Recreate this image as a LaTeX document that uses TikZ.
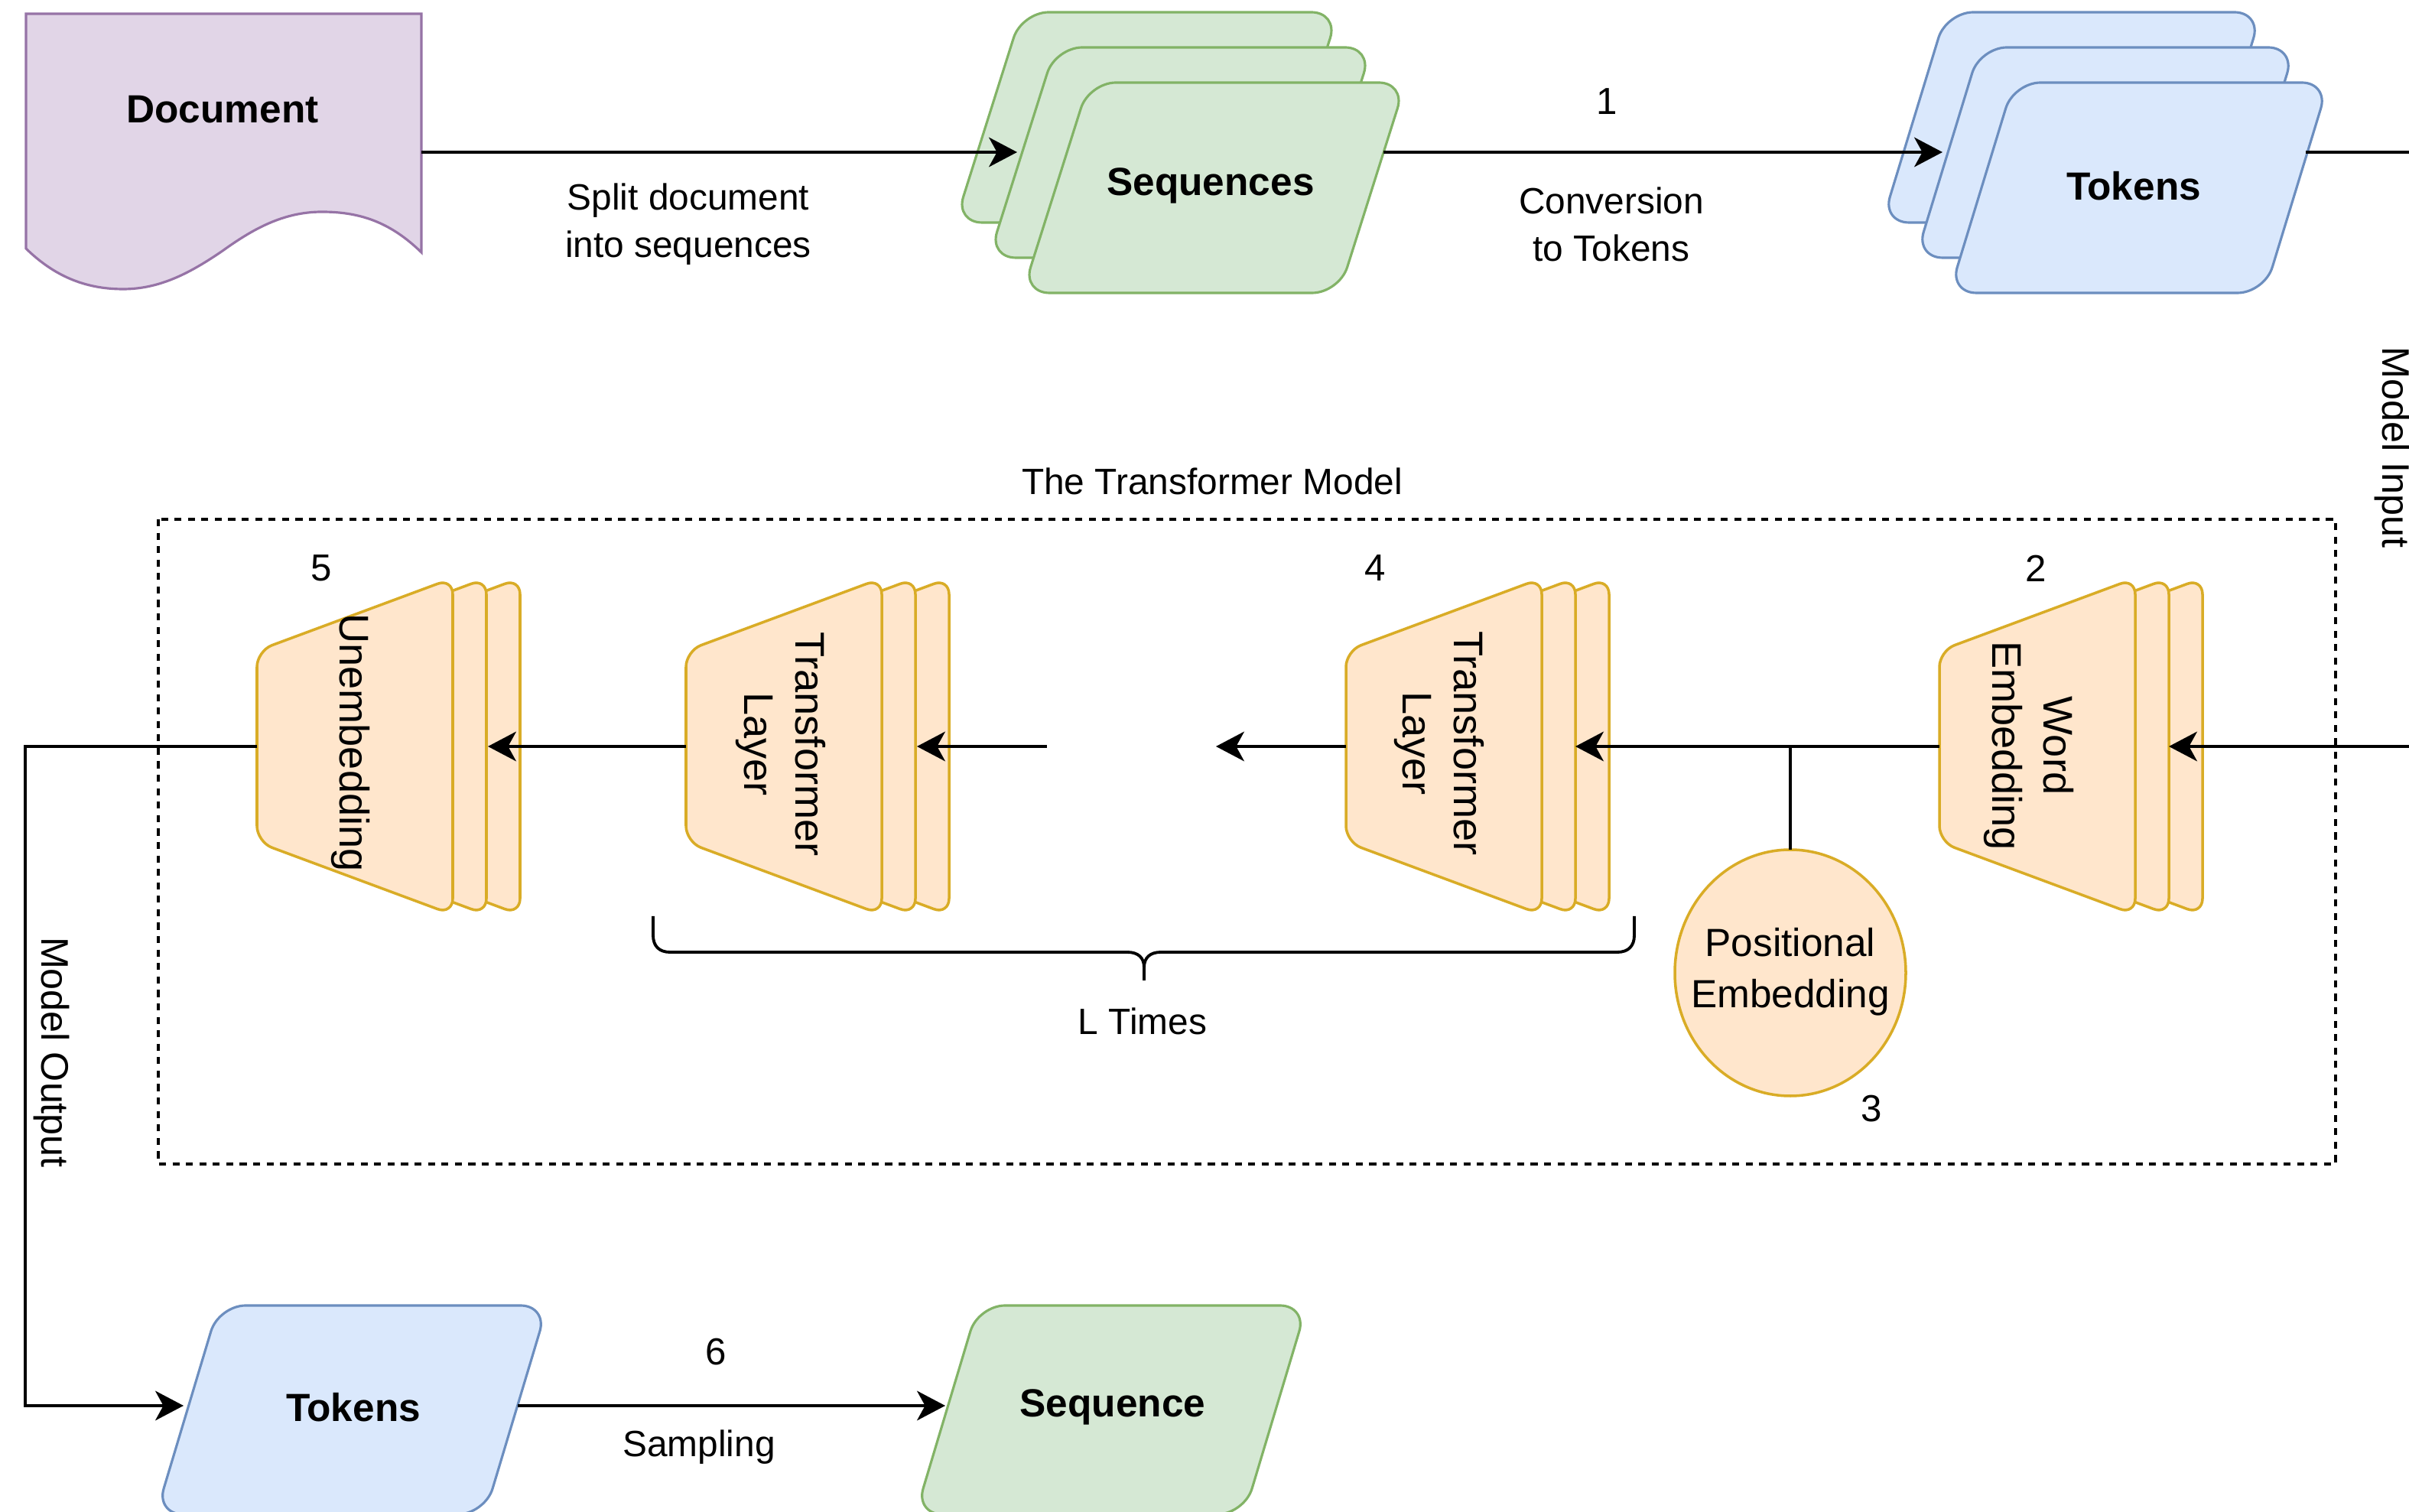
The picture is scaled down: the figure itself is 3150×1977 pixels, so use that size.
\documentclass[tikz,border=0pt]{standalone}
\usepackage{fontspec}
\setmainfont{Liberation Sans}
\usetikzlibrary{arrows.meta}
\definecolor{docfill}{HTML}{E1D5E7}
\definecolor{docline}{HTML}{9673A6}
\definecolor{seqfill}{HTML}{D5E8D4}
\definecolor{seqline}{HTML}{82B366}
\definecolor{tokfill}{HTML}{DAE8FC}
\definecolor{tokline}{HTML}{6C8EBF}
\definecolor{layfill}{HTML}{FFE6CC}
\definecolor{layline}{HTML}{D9AC26}
\tikzset{
  conn/.style={line width=1.05pt, draw=black},
  arr/.style={conn, -{Stealth[length=10.5pt,width=11pt,inset=3pt]}},
  docshape/.style={fill=docfill, draw=docline, line width=0.9pt},
  seqshape/.style={fill=seqfill, draw=seqline, line width=0.9pt, rounded corners=10pt},
  tokshape/.style={fill=tokfill, draw=tokline, line width=0.9pt, rounded corners=10pt},
  layshape/.style={fill=layfill, draw=layline, line width=1pt, rounded corners=6pt},
  lbl/.style={font=\fontsize{13.6}{17.6}\selectfont, align=center, inner sep=0pt},
  numlbl/.style={font=\fontsize{14}{17}\selectfont, inner sep=0pt},
  boldlbl/.style={font=\fontsize{14.6}{17}\selectfont\bfseries, inner sep=0pt},
  laytext/.style={font=\fontsize{15.4}{19}\selectfont, align=center, rotate=-90, inner sep=0pt},
  sidetext/.style={font=\fontsize{14.3}{17}\selectfont, rotate=-90, inner sep=0pt},
}
% three stacked trapezoids, front one with its narrow side at x = #1
\newcommand\layerstack[1]{%
  \foreach \s in {2,1,0}{%
    \draw[layshape, shift={(#1+44*\s,0)}] (0,851) -- (256,756) -- (256,1196) -- (0,1101) -- cycle;
  }%
}
\begin{document}
\begin{tikzpicture}[x=0.01cm, y=-0.01cm]
\useasboundingbox (0,0) rectangle (3150,1977);
\fill[white] (0,0) rectangle (3150,1977);
\clip (0,0) rectangle (3150,1977);

% ---------- top row ----------
\draw[docshape] (34,18) -- (551,18) -- (551,330)
  .. controls (510,290) and (470,277) .. (421,277)
  .. controls (370,277) and (330,300) .. (291,328)
  .. controls (250,356) and (210,378) .. (161,378)
  .. controls (110,378) and (70,360) .. (34,325) -- cycle;
\node[boldlbl] (doc) at (291,143) {Document};

\foreach \s in {2,1,0}
  \draw[seqshape, shift={(-44*\s,-46*\s)}] (1424,108) -- (1838,108) -- (1751,383) -- (1337,383) -- cycle;
\node[boldlbl] (seqs) at (1583,243) {Sequences};

\foreach \s in {2,1,0}
  \draw[tokshape, shift={(-44*\s,-46*\s)}] (2633,108) -- (3045,108) -- (2961,383) -- (2549,383) -- cycle;
\node[boldlbl] (toks) at (2790,243) {Tokens};

\coordinate (docOut) at (551,199);
\coordinate (seqIn) at (1330,199);
\coordinate (seqOut) at (1809,199);
\coordinate (tokIn) at (2540,199);
\coordinate (tokOut) at (3015,199);
\draw[arr] (docOut) -- (seqIn);
\draw[arr] (seqOut) -- (tokIn);

\node[lbl] (split) at (900,293) {Split document\\into sequences};
\node[numlbl] (n1) at (2101,133) {1};
\node[lbl] (conv) at (2107,293) {Conversion\\to Tokens};
\node[sidetext] (minput) at (3128,585) {Model Input};

% ---------- transformer model ----------
\draw[line width=1.1pt, dash pattern=on 2.6pt off 2.4pt] (207,679) rectangle (3054,1522);
\node[lbl] (title) at (1585,629) {The Transformer Model};

\layerstack{336}
\layerstack{897}
\layerstack{1760}
\layerstack{2536}

\node[laytext] (unemb) at (458,971) {Unembedding};
\node[laytext] (tl1) at (1021,973) {Transformer\\Layer};
\node[laytext] (tl2) at (1882,972) {Transformer\\Layer};
\node[laytext] (wemb) at (2653,975) {Word\\Embedding};

\node[numlbl] (n5) at (420,743) {5};
\node[numlbl] (n4) at (1798,743) {4};
\node[numlbl] (n2) at (2662,743) {2};

\draw[layshape] (2341,1272) ellipse [x radius=151, y radius=161];
\node[font=\fontsize{14.6}{19}\selectfont, align=center, inner sep=0pt] (pe) at (2341,1271) {Positional\\Embedding};
\coordinate (peTop) at (2341,1111);
\node[numlbl] (n3) at (2447,1450) {3};

% main data path
\coordinate (inA) at (3200,199);
\coordinate (inB) at (3200,976);
\coordinate (weIn) at (2836,976);
\coordinate (weOut) at (2536,976);
\coordinate (tl2In) at (2060,976);
\coordinate (join) at (2341,976);
\coordinate (tl2Out) at (1760,976);
\coordinate (gapR) at (1590,976);
\coordinate (gapL) at (1369,976);
\coordinate (tl1In) at (1199,976);
\coordinate (tl1Out) at (897,976);
\coordinate (ueIn) at (638,976);
\coordinate (ueOut) at (336,976);
\coordinate (outA) at (33,976);
\coordinate (outB) at (33,1838);

\draw[arr] (tokOut) -- (inA) -- (inB) -- (weIn);
\draw[arr] (weOut) -- (tl2In);
\draw[conn] (join) -- (peTop);
\draw[arr] (tl2Out) -- (gapR);
\draw[arr] (gapL) -- (tl1In);
\draw[arr] (tl1Out) -- (ueIn);

% brace over the repeated layers
\draw[line width=1.1pt] (854,1198) -- (854,1223) .. controls (854,1237) and (862,1245) .. (876,1245)
  -- (1474,1245) .. controls (1488,1245) and (1496,1252) .. (1496,1265) -- (1496,1282);
\draw[line width=1.1pt] (2137,1198) -- (2137,1223) .. controls (2137,1237) and (2129,1245) .. (2115,1245)
  -- (1518,1245) .. controls (1504,1245) and (1496,1252) .. (1496,1265);
\node[lbl] (ltimes) at (1494,1335) {L Times};

% ---------- bottom row ----------
\draw[tokshape] (286,1707) -- (716,1707) -- (634,1980) -- (204,1980) -- cycle;
\node[boldlbl] (tokB) at (462,1840) {Tokens};
\draw[seqshape] (1279,1707) -- (1709,1707) -- (1627,1980) -- (1197,1980) -- cycle;
\node[boldlbl] (seqB) at (1455,1840) {Sequence};

\coordinate (tokBIn) at (240,1838);
\coordinate (tokBOut) at (677,1838);
\coordinate (seqBIn) at (1236,1838);
\draw[arr] (ueOut) -- (outA) -- (outB) -- (tokBIn);
\draw[arr] (tokBOut) -- (seqBIn);
\node[sidetext] (moutput) at (68,1376) {Model Output};
\node[numlbl] (n6) at (936,1768) {6};
\node[lbl] (sampling) at (914,1892) {Sampling};
\end{tikzpicture}
\end{document}
